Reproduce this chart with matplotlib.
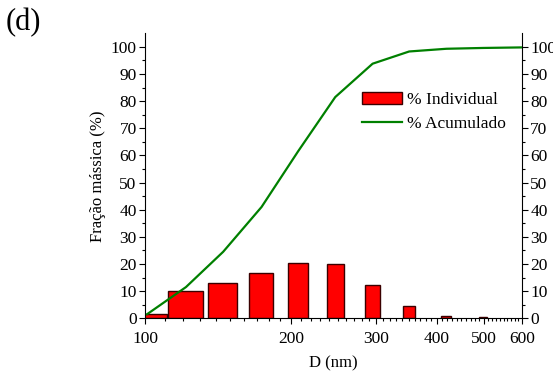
import numpy as np
import matplotlib.pyplot as plt
from matplotlib.ticker import FixedLocator, NullFormatter

plt.rcParams['font.family'] = ['Liberation Serif', 'DejaVu Serif']

# diameters (nm) and mass fraction (%)
diam = [101, 121.5, 145, 174, 207, 247, 295, 351, 419, 499]
individual = [1.5, 10, 13, 16.5, 20.5, 20, 12.3, 4.5, 1, 0.3]
cum_x = diam + [600]
cumulative = list(np.cumsum(individual)) + [99.8]
bar_width = 20

fig = plt.figure(figsize=(5.53, 3.72), dpi=100)
ax = fig.add_axes([0.2622, 0.1444, 0.6817, 0.7661])

bars = ax.bar(diam, individual, width=bar_width, color='red', edgecolor='#3a0000',
              linewidth=1, zorder=2)
line, = ax.plot(cum_x, cumulative, color='green', lw=1.6, zorder=3)

ax.set_xscale('log')
ax.set_xlim(100, 600)
ax.set_ylim(0, 105)
ax.xaxis.set_major_locator(FixedLocator([100, 200, 300, 400, 500, 600]))
ax.xaxis.set_minor_locator(FixedLocator(list(range(110, 600, 10))))
ax.xaxis.set_minor_formatter(NullFormatter())
ax.set_xticklabels(['100', '200', '300', '400', '500', '600'])
ax.set_yticks(range(0, 101, 10))
ax.set_yticks(range(5, 101, 10), minor=True)

ax.spines['top'].set_visible(False)
ax.tick_params(which='major', length=4, width=0.8, labelsize=12.5,
               right=True, labelright=True, direction='out', pad=2)
ax.tick_params(axis='x', which='major', pad=5)
ax.tick_params(which='minor', length=2.5, width=0.8, right=True, direction='out')

ax.set_xlabel('D (nm)', fontsize=12, labelpad=6)
ax.set_ylabel('Fração mássica (%)', fontsize=12, labelpad=3)

ax.legend([bars, line], ['% Individual', '% Acumulado'], loc='upper left',
          bbox_to_anchor=(0.558, 0.82), frameon=False, fontsize=12.5,
          handlelength=2.3, handletextpad=0.3, labelspacing=0.45, borderaxespad=0)

fig.text(0.01, 0.94, '(d)', fontsize=22, va='center', ha='left')

fig.savefig('out.png', dpi=100)
